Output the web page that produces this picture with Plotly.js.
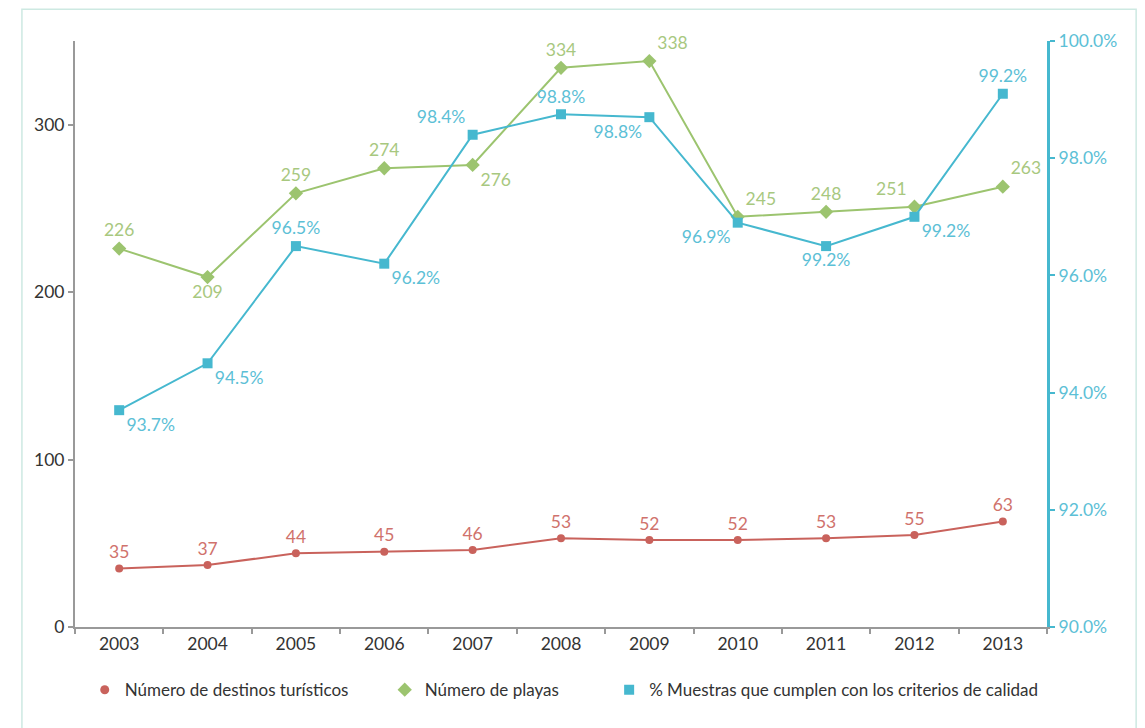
<!DOCTYPE html>
<html>
<head>
<meta charset="utf-8">
<script src="https://cdn.plot.ly/plotly-3.0.1.min.js"></script>
<style>html,body{margin:0;padding:0;background:#fff;}#chart{width:1145px;height:728px;}</style>
</head>
<body>
<div id="chart"></div>
<script>
const years = ['2003','2004','2005','2006','2007','2008','2009','2010','2011','2012','2013'];
const destinos = [35, 37, 44, 45, 46, 53, 52, 52, 53, 55, 63];
const playas = [226, 209, 259, 274, 276, 334, 338, 245, 248, 251, 263];
const muestras = [93.7, 94.5, 96.5, 96.2, 98.4, 98.75, 98.7, 96.9, 96.5, 97.0, 99.1];
const muestrasLabels = ['93.7%','94.5%','96.5%','96.2%','98.4%','98.8%','98.8%','96.9%','99.2%','99.2%','99.2%'];
const leftTicks = [0, 100, 200, 300];
const rightTicks = [90, 92, 94, 96, 98, 100];
const rightTickLabels = ['90.0%','92.0%','94.0%','96.0%','98.0%','100.0%'];
const seriesNames = ['Número de destinos turísticos','Número de playas','% Muestras que cumplen con los criterios de calidad'];

const FONT = 'Lato, "Open Sans", sans-serif';
const RED = '#c9625c', GREEN = '#9cc46f', BLUE = '#46b8cf';
const RED_T = '#d0726c', GREEN_T = '#a8c87f', BLUE_T = '#5cc0d6';

const data = [
  {
    x: years, y: destinos, type: 'scatter', mode: 'lines+markers+text',
    line: {color: RED, width: 2}, marker: {color: RED, size: 8, symbol: 'circle'},
    text: destinos.map(String), textposition: 'top center',
    textfont: {color: RED_T, size: 17.5, family: FONT}, showlegend: false, cliponaxis: false
  },
  {
    x: years, y: playas, type: 'scatter', mode: 'lines+markers+text',
    line: {color: GREEN, width: 2}, marker: {color: GREEN, size: 11, symbol: 'diamond'},
    text: playas.map(String),
    textposition: ['top center','bottom center','top center','top center','bottom right','top center','top right','top right','top center','top left','top right'],
    textfont: {color: GREEN_T, size: 17.5, family: FONT}, showlegend: false, cliponaxis: false
  },
  {
    x: years, y: muestras, yaxis: 'y2', type: 'scatter', mode: 'lines+markers+text',
    line: {color: BLUE, width: 2}, marker: {color: BLUE, size: 10, symbol: 'square'},
    text: muestrasLabels,
    textposition: ['bottom right','bottom right','top center','bottom right','top left','top center','bottom left','bottom left','bottom center','bottom right','top center'],
    textfont: {color: BLUE_T, size: 17.5, family: FONT}, showlegend: false, cliponaxis: false
  },
  {x: [null], y: [null], type: 'scatter', mode: 'markers', name: seriesNames[0],
   marker: {color: RED, size: 9, symbol: 'circle'}, legend: 'legend'},
  {x: [null], y: [null], type: 'scatter', mode: 'markers', name: seriesNames[1],
   marker: {color: GREEN, size: 11, symbol: 'diamond'}, legend: 'legend2'},
  {x: [null], y: [null], type: 'scatter', mode: 'markers', name: seriesNames[2],
   marker: {color: BLUE, size: 10, symbol: 'square'}, legend: 'legend3'}
];

const legendBase = {
  orientation: 'h', yref: 'container', xref: 'container', y: 0.052, yanchor: 'middle', xanchor: 'left',
  font: {family: FONT, size: 17, color: '#333'}, bgcolor: 'rgba(0,0,0,0)', itemwidth: 30
};

const layout = {
  width: 1145, height: 728,
  margin: {l: 75, r: 98, t: 41, b: 101},
  paper_bgcolor: '#fff', plot_bgcolor: '#fff',
  font: {family: FONT, size: 17, color: '#333'},
  xaxis: {
    type: 'category', range: [-0.5, 10.5], tickson: 'boundaries',
    ticks: 'outside', ticklen: 5, tickwidth: 2, tickcolor: '#999',
    showline: true, linecolor: '#999', linewidth: 2, showgrid: false, zeroline: false,
    tickfont: {size: 17.5, color: '#333', family: FONT}
  },
  yaxis: {
    range: [0, 350], tickmode: 'array', tickvals: leftTicks,
    ticks: 'outside', ticklen: 5, tickwidth: 2, tickcolor: '#999',
    showline: true, linecolor: '#999', linewidth: 2, showgrid: false, zeroline: false,
    tickfont: {size: 17.5, color: '#333', family: FONT}
  },
  yaxis2: {
    overlaying: 'y', side: 'right', range: [90, 100],
    tickmode: 'array', tickvals: rightTicks, ticktext: rightTickLabels,
    ticks: 'outside', ticklen: 5, tickwidth: 2, tickcolor: BLUE,
    showline: true, linecolor: BLUE, linewidth: 3, showgrid: false, zeroline: false,
    tickfont: {size: 17.5, color: BLUE_T, family: FONT}
  },
  legend: Object.assign({}, legendBase, {x: 0.074}),
  legend2: Object.assign({}, legendBase, {x: 0.336}),
  legend3: Object.assign({}, legendBase, {x: 0.532}),
  shapes: [
    {type: 'rect', xref: 'paper', yref: 'paper', x0: -0.0546, x1: 1.0917, y0: -0.25, y1: 1.0543,
     line: {color: '#cde9e2', width: 1.5}, fillcolor: 'rgba(0,0,0,0)', layer: 'below'}
  ]
};

Plotly.newPlot('chart', data, layout, {displayModeBar: false, staticPlot: true});
</script>
</body>
</html>
